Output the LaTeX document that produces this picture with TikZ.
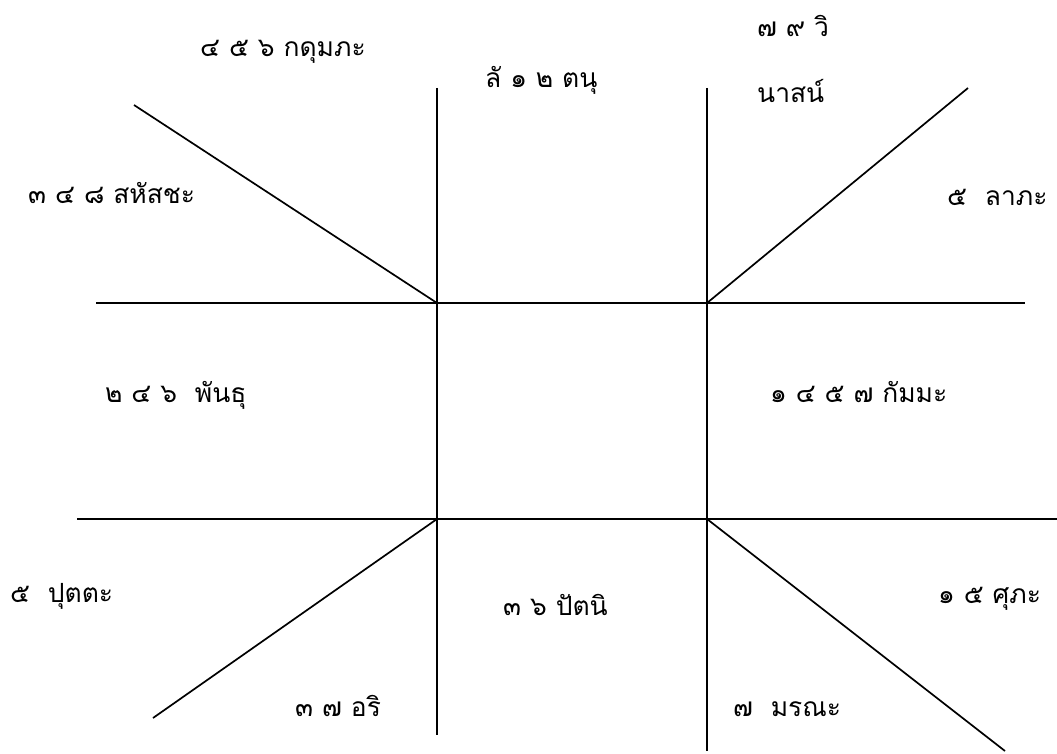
\documentclass[tikz,border=0pt]{standalone}
\usepackage{fontspec}
\newfontfamily\thaifont[Script=Thai]{Loma}
\begin{document}
\begin{tikzpicture}[x=1bp,y=-1bp,
  grid/.style={line width=1.7bp,black},
  lbl/.style={anchor=base west,inner sep=0pt,font=\thaifont\fontsize{26.5}{30}\selectfont}]
\useasboundingbox (0,0) rectangle (1057,754);
% crossing points
\coordinate (TL) at (437,303);
\coordinate (TR) at (707,303);
\coordinate (BL) at (437,519);
\coordinate (BR) at (707,519);
% free ends
\coordinate (vlt) at (437,88);
\coordinate (vlb) at (437,735);
\coordinate (vrt) at (707,88);
\coordinate (vrb) at (707,751);
\coordinate (hte) at (96,303);
\coordinate (htw) at (1025,303);
\coordinate (hbe) at (77,519);
\coordinate (hbw) at (1057,519);
\coordinate (dtl) at (134,105);
\coordinate (dtr) at (968,88);
\coordinate (dbl) at (153,718);
\coordinate (dbr) at (1005,751);
% lines
\draw[grid] (vlt) -- (vlb);
\draw[grid] (vrt) -- (vrb);
\draw[grid] (hte) -- (htw);
\draw[grid] (hbe) -- (hbw);
\draw[grid] (TL) -- (dtl);
\draw[grid] (TR) -- (dtr);
\draw[grid] (BL) -- (dbl);
\draw[grid] (BR) -- (dbr);
% labels
\node[lbl] (kadum) at (200,57) {๔ ๕ ๖ กดุมภะ};
\node[lbl] (tanu) at (485,88) {ลั ๑ ๒ ตนุ};
\node[lbl] (wi) at (757,37) {๗ ๙ วิ};
\node[lbl] (nas) at (757,103) {นาสน์};
\node[lbl] (sahat) at (28,203) {๓ ๔ ๘ สหัสชะ};
\node[lbl] (lap) at (947,205) {๕\ \ ลาภะ};
\node[lbl] (phan) at (105,402) {๒ ๔ ๖\ \ พันธุ};
\node[lbl] (kam) at (770,402) {๑ ๔ ๕ ๗ กัมมะ};
\node[lbl] (put) at (10,602) {๕\ \ ปุตตะ};
\node[lbl] (pat) at (503,615) {๓ ๖ ปัตนิ};
\node[lbl] (ari) at (295,716) {๓ ๗ อริ};
\node[lbl] (mor) at (733,716) {๗\ \ มรณะ};
\node[lbl] (sup) at (938,603) {๑ ๕ ศุภะ};
\end{tikzpicture}
\end{document}
